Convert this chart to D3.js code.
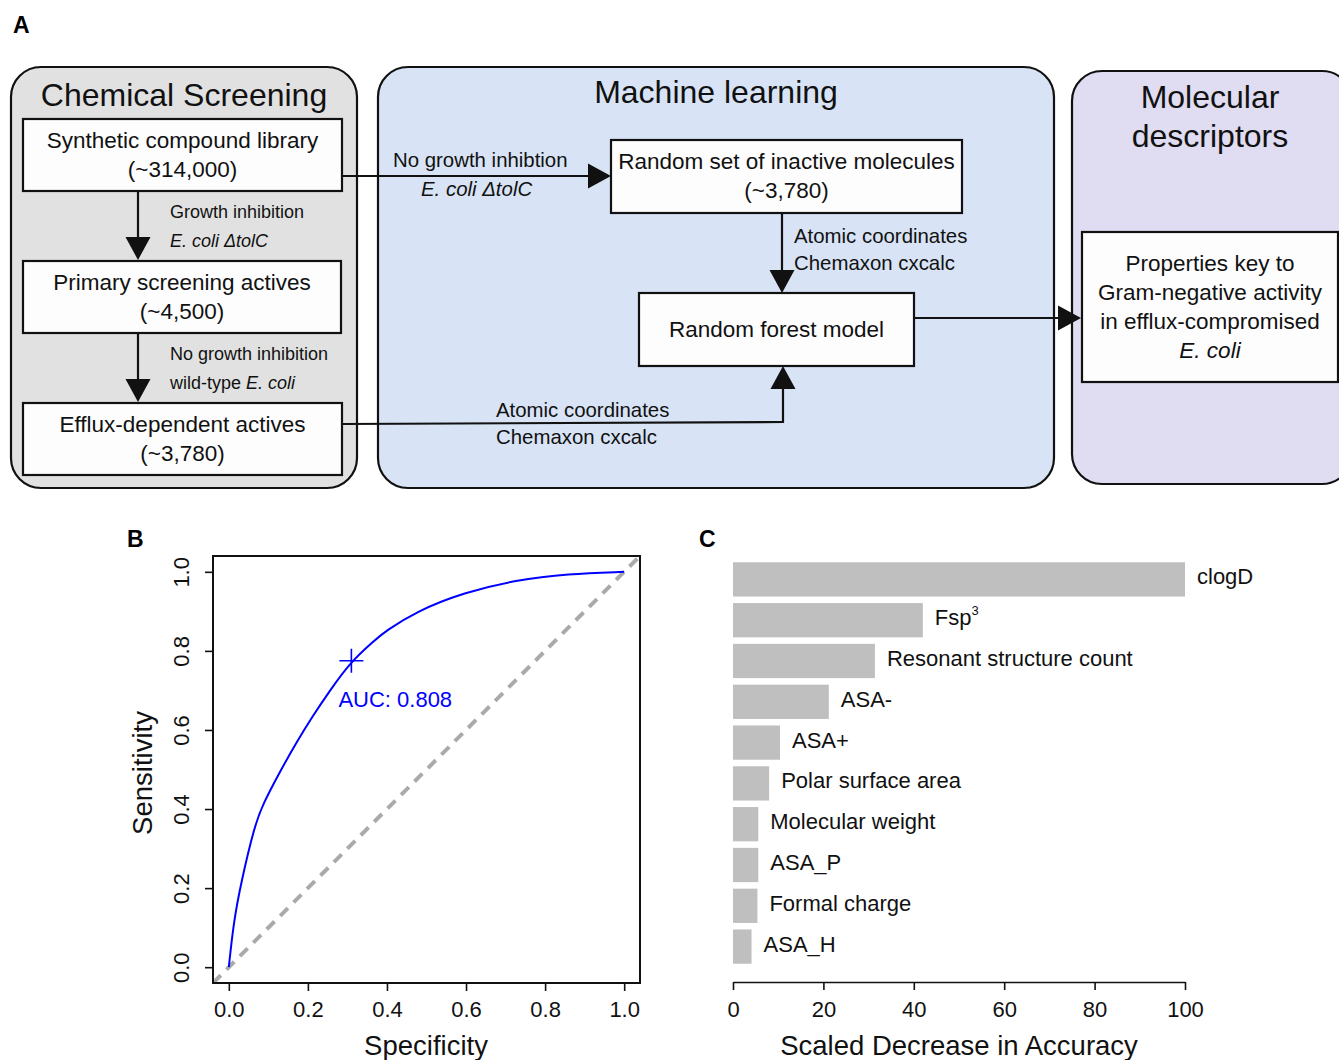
<!DOCTYPE html>
<html>
<head>
<meta charset="utf-8">
<script src="https://cdn.jsdelivr.net/npm/d3@7"></script>
<style>
  html, body { margin: 0; padding: 0; background: #fff; }
  svg { display: block; font-family: "Liberation Sans", Arial, sans-serif; }
</style>
</head>
<body>
<svg id="fig" width="1339" height="1060"></svg>
<script>
// ROC curve (specificity axis as drawn, sensitivity)
const rocSpec = [0, 0.012, 0.031, 0.065, 0.086, 0.128, 0.170, 0.212, 0.254, 0.306, 0.368, 0.395, 0.474, 0.595, 0.726, 0.857, 1.0];
const rocSens = [0, 0.113, 0.214, 0.357, 0.412, 0.492, 0.567, 0.635, 0.697, 0.770, 0.826, 0.849, 0.900, 0.948, 0.979, 0.995, 1.0];
const cutoff = [0.31, 0.775];
const aucLabel = 'AUC: 0.808';
const rocTicks = [0, 0.2, 0.4, 0.6, 0.8, 1.0];

// panel C: variable importance
const featureNames  = ['clogD', 'Fsp3', 'Resonant structure count', 'ASA-', 'ASA+',
                       'Polar surface area', 'Molecular weight', 'ASA_P', 'Formal charge', 'ASA_H'];
const featureValues = [100, 42, 31.4, 21.2, 10.4, 8.0, 5.6, 5.6, 5.4, 4.1];
const importanceTicks = [0, 20, 40, 60, 80, 100];

const svg = d3.select('#fig');

// ---------- panel A: flowchart ----------
const A = svg.append('g');

A.append('text').attr('x', 13).attr('y', 33)
  .attr('font-size', 23).attr('font-weight', 'bold').text('A');

const groups = [
  { x: 11,   y: 67, w: 346, h: 421, fill: '#e1e1e1' },
  { x: 378,  y: 67, w: 676, h: 421, fill: '#d8e4f5' },
  { x: 1072, y: 71, w: 280, h: 413, fill: '#e0dcf1' }
];
A.selectAll('rect.group').data(groups).join('rect')
  .attr('class', 'group')
  .attr('x', d => d.x).attr('y', d => d.y)
  .attr('width', d => d.w).attr('height', d => d.h)
  .attr('rx', 30).attr('ry', 30)
  .attr('fill', d => d.fill).attr('stroke', '#111').attr('stroke-width', 2.2);

const titles = [
  { x: 184,  y: 106, t: 'Chemical Screening' },
  { x: 716,  y: 103, t: 'Machine learning' },
  { x: 1210, y: 108, t: 'Molecular' },
  { x: 1210, y: 147, t: 'descriptors' }
];
A.selectAll('text.title').data(titles).join('text')
  .attr('class', 'title')
  .attr('x', d => d.x).attr('y', d => d.y)
  .attr('text-anchor', 'middle').attr('font-size', 32).attr('fill', '#111')
  .text(d => d.t);

const boxes = [
  { x: 23,   y: 119, w: 319, h: 72,  lines: ['Synthetic compound library', '(~314,000)'] },
  { x: 23,   y: 261, w: 318, h: 72,  lines: ['Primary screening actives', '(~4,500)'] },
  { x: 23,   y: 403, w: 319, h: 72,  lines: ['Efflux-dependent actives', '(~3,780)'] },
  { x: 611,  y: 140, w: 351, h: 73,  lines: ['Random set of inactive molecules', '(~3,780)'] },
  { x: 639,  y: 293, w: 275, h: 73,  lines: ['Random forest model'] },
  { x: 1082, y: 232, w: 256, h: 150, lines: ['Properties key to', 'Gram-negative activity', 'in efflux-compromised', 'E. coli'] }
];
const boxG = A.selectAll('g.box').data(boxes).join('g').attr('class', 'box');
boxG.append('rect')
  .attr('x', d => d.x).attr('y', d => d.y).attr('width', d => d.w).attr('height', d => d.h)
  .attr('fill', '#fdfdfe').attr('stroke', '#111').attr('stroke-width', 2.2);
boxG.each(function(d) {
  const n = d.lines.length, lh = 29;
  const y0 = d.y + d.h / 2 - (n - 1) * lh / 2 + 7;
  d3.select(this).selectAll('text').data(d.lines).join('text')
    .attr('x', d.x + d.w / 2).attr('y', (l, i) => y0 + i * lh)
    .attr('text-anchor', 'middle').attr('font-size', 22.5).attr('fill', '#111')
    .attr('font-style', l => l === 'E. coli' ? 'italic' : null)
    .text(l => l);
});

// connectors
const lines = [
  [[138, 191], [138, 240]],
  [[138, 333], [138, 382]],
  [[342, 176], [590, 176]],
  [[782, 213], [782, 272]],
  [[342, 424], [783, 422], [783, 388]],
  [[914, 318], [1060, 318]]
];
A.selectAll('path.link').data(lines).join('path')
  .attr('class', 'link')
  .attr('d', d3.line()).attr('fill', 'none')
  .attr('stroke', '#111').attr('stroke-width', 2.2);

// arrowheads: tip point and direction
const heads = [
  { x: 138,  y: 260, dir: 'down' },
  { x: 138,  y: 402, dir: 'down' },
  { x: 611,  y: 176, dir: 'right' },
  { x: 782,  y: 293, dir: 'down' },
  { x: 783,  y: 366, dir: 'up' },
  { x: 1081, y: 318, dir: 'right' }
];
const headPath = d => {
  const L = 23, W = 12.5;
  if (d.dir === 'down')  return `M${d.x},${d.y}L${d.x - W},${d.y - L}L${d.x + W},${d.y - L}Z`;
  if (d.dir === 'up')    return `M${d.x},${d.y}L${d.x - W},${d.y + L}L${d.x + W},${d.y + L}Z`;
  return `M${d.x},${d.y}L${d.x - L},${d.y - W}L${d.x - L},${d.y + W}Z`;
};
A.selectAll('path.head').data(heads).join('path')
  .attr('class', 'head').attr('d', headPath).attr('fill', '#111');

// arrow captions; parts flagged with i are italic
const captions = [
  { x: 170, y: 218, size: 18, parts: [{ t: 'Growth inhibition' }] },
  { x: 170, y: 247, size: 18, parts: [{ t: 'E. coli ΔtolC', i: true }] },
  { x: 170, y: 360, size: 18, parts: [{ t: 'No growth inhibition' }] },
  { x: 170, y: 389, size: 18, parts: [{ t: 'wild-type ' }, { t: 'E. coli', i: true }] },
  { x: 393, y: 167, size: 20.4, parts: [{ t: 'No growth inhibtion' }] },
  { x: 421, y: 196, size: 20.4, parts: [{ t: 'E. coli ΔtolC', i: true }] },
  { x: 794, y: 243, size: 20.4, parts: [{ t: 'Atomic coordinates' }] },
  { x: 794, y: 270, size: 20.4, parts: [{ t: 'Chemaxon cxcalc' }] },
  { x: 496, y: 417, size: 20.4, parts: [{ t: 'Atomic coordinates' }] },
  { x: 496, y: 444, size: 20.4, parts: [{ t: 'Chemaxon cxcalc' }] }
];
A.selectAll('text.cap').data(captions).join('text')
  .attr('class', 'cap')
  .attr('x', d => d.x).attr('y', d => d.y)
  .attr('font-size', d => d.size).attr('fill', '#111')
  .each(function(d) {
    d3.select(this).selectAll('tspan').data(d.parts).join('tspan')
      .attr('font-style', p => p.i ? 'italic' : null)
      .text(p => p.t);
  });

// ---------- panel B: ROC ----------
const B = svg.append('g');
B.append('text').attr('x', 127).attr('y', 547)
  .attr('font-size', 23).attr('font-weight', 'bold').text('B');

const bx = d3.scaleLinear().domain([-0.04, 1.04]).range([213, 640]);
const by = d3.scaleLinear().domain([-0.04, 1.04]).range([983, 556]);

B.append('defs').append('clipPath').attr('id', 'rocClip')
  .append('rect').attr('x', 213).attr('y', 556).attr('width', 427).attr('height', 427);

B.append('line')
  .attr('clip-path', 'url(#rocClip)')
  .attr('x1', bx(-0.04)).attr('y1', by(-0.04))
  .attr('x2', bx(1.04)).attr('y2', by(1.04))
  .attr('stroke', '#aaaaaa').attr('stroke-width', 4)
  .attr('stroke-dasharray', '11,8');

const roc = rocSpec.map((s, i) => [s, rocSens[i]]);
B.append('path').datum(roc)
  .attr('d', d3.line().x(d => bx(d[0])).y(d => by(d[1])).curve(d3.curveBasis))
  .attr('fill', 'none').attr('stroke', '#0000ff').attr('stroke-width', 2);

B.append('path')
  .attr('d', `M${bx(cutoff[0]) - 12},${by(cutoff[1])}H${bx(cutoff[0]) + 12}M${bx(cutoff[0])},${by(cutoff[1]) - 12}V${by(cutoff[1]) + 12}`)
  .attr('stroke', '#0000ff').attr('stroke-width', 1.6);
B.append('text')
  .attr('x', bx(cutoff[0]) - 13).attr('y', by(cutoff[1]) + 46)
  .attr('font-size', 22).attr('fill', '#0000ff').text(aucLabel);

B.append('rect').attr('x', 213).attr('y', 556).attr('width', 427).attr('height', 427)
  .attr('fill', 'none').attr('stroke', '#111').attr('stroke-width', 2);

const bxAxis = B.append('g').attr('transform', 'translate(0,983)')
  .call(d3.axisBottom(bx).tickValues(rocTicks).tickFormat(d3.format('.1f')).tickSize(8).tickPadding(10));
const byAxis = B.append('g').attr('transform', 'translate(213,0)')
  .call(d3.axisLeft(by).tickValues(rocTicks).tickFormat(d3.format('.1f')).tickSize(8));
[bxAxis, byAxis].forEach(ax => {
  ax.select('.domain').remove();
  ax.selectAll('.tick line').attr('stroke', '#111').attr('stroke-width', 1.6);
  ax.selectAll('.tick text').attr('font-size', 22).attr('fill', '#111')
    .attr('font-family', '"Liberation Sans", Arial, sans-serif');
});
byAxis.selectAll('.tick text')
  .attr('x', null).attr('dy', null).attr('text-anchor', 'middle')
  .attr('transform', 'translate(-24,0) rotate(-90)');

B.append('text').attr('transform', 'translate(152,773) rotate(-90)')
  .attr('text-anchor', 'middle').attr('font-size', 27.5).attr('fill', '#111').text('Sensitivity');
B.append('text').attr('x', 426).attr('y', 1055)
  .attr('text-anchor', 'middle').attr('font-size', 27.5).attr('fill', '#111').text('Specificity');

// ---------- panel C: importance bars ----------
const C = svg.append('g');
C.append('text').attr('x', 699).attr('y', 547)
  .attr('font-size', 23).attr('font-weight', 'bold').text('C');

const cx = d3.scaleLinear().domain([0, 100]).range([733, 1185]);
const cy = d3.scaleBand().domain(featureNames).range([559, 967]).paddingInner(0.16).paddingOuter(0.08);

C.selectAll('rect.bar').data(featureNames).join('rect')
  .attr('class', 'bar')
  .attr('x', cx(0)).attr('y', d => cy(d))
  .attr('width', (d, i) => cx(featureValues[i]) - cx(0))
  .attr('height', cy.bandwidth())
  .attr('fill', '#bfbfbf');

C.selectAll('text.lab').data(featureNames).join('text')
  .attr('class', 'lab')
  .attr('x', (d, i) => cx(featureValues[i]) + 12)
  .attr('y', d => cy(d) + cy.bandwidth() / 2 + 5)
  .attr('font-size', 22).attr('fill', '#111')
  .each(function(d) {
    const t = d3.select(this);
    if (d === 'Fsp3') {
      t.append('tspan').text('Fsp');
      t.append('tspan').attr('font-size', 13).attr('dy', -10).text('3');
    } else {
      t.text(d);
    }
  });

const cAxis = C.append('g').attr('transform', 'translate(0,982)')
  .call(d3.axisBottom(cx).tickValues(importanceTicks).tickSize(8).tickSizeOuter(0).tickPadding(11));
cAxis.select('.domain').attr('stroke', '#111').attr('stroke-width', 1.6);
cAxis.selectAll('.tick line').attr('stroke', '#111').attr('stroke-width', 1.6);
cAxis.selectAll('.tick text').attr('font-size', 22).attr('fill', '#111')
  .attr('font-family', '"Liberation Sans", Arial, sans-serif');

C.append('text').attr('x', 959).attr('y', 1055)
  .attr('text-anchor', 'middle').attr('font-size', 27.5).attr('fill', '#111')
  .text('Scaled Decrease in Accuracy');
</script>
</body>
</html>
